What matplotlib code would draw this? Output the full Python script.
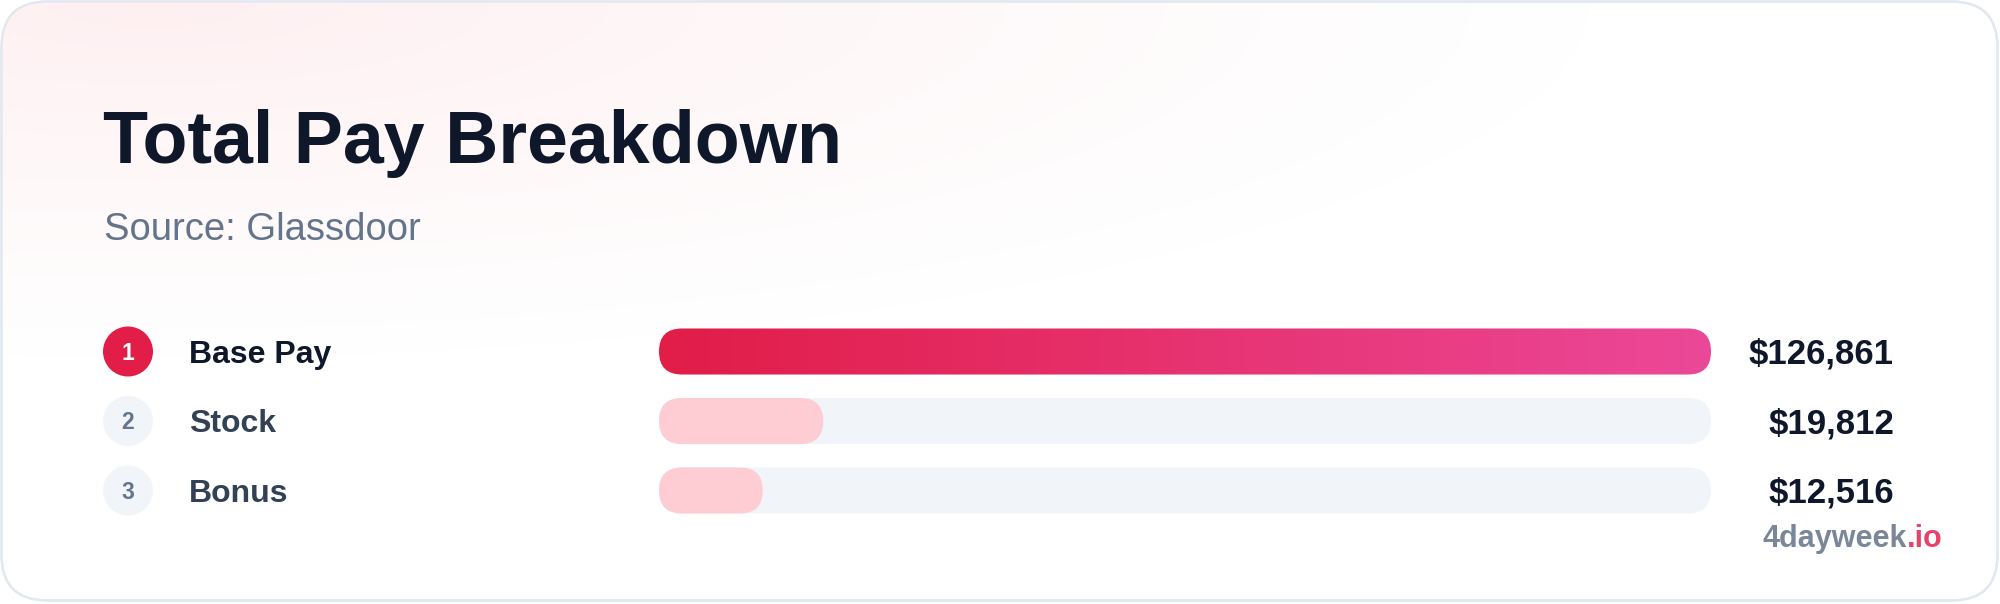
import numpy as np
import matplotlib
matplotlib.use("Agg")
import matplotlib.pyplot as plt
from matplotlib.patches import FancyBboxPatch, Ellipse
from matplotlib import transforms
from matplotlib.colors import to_rgb

# ---------------- data ----------------
categories = ["Base Pay", "Stock", "Bonus"]
values = [126861, 19812, 12516]
value_labels = ["$126,861", "$19,812", "$12,516"]
ranks = ["1", "2", "3"]
title = "Total Pay Breakdown"
subtitle = "Source: Glassdoor"
brand_main = "4dayweek"
brand_tld = ".io"

# ---------------- layout / style ----------------
W, H, DPI = 2000, 604, 100
plt.rcParams["font.family"] = ["Liberation Sans", "DejaVu Sans"]

DARK = "#0f172a"
SLATE7 = "#334155"
SLATE5 = "#64748b"
ROSE = "#e11d48"
PINK = "#ec4899"
ROSE200 = "#fecdd3"
TRACK = "#f1f5f9"
BORDER = "#e2e8f0"

fig = plt.figure(figsize=(W / DPI, H / DPI), dpi=DPI)
fig.patch.set_facecolor("white")

bg = fig.add_axes([0, 0, 1, 1])
bg.set_xlim(0, W)
bg.set_ylim(H, 0)
bg.axis("off")

# card
card = FancyBboxPatch((1.5, 1.5), W - 4, H - 5,
                      boxstyle="round,pad=0,rounding_size=46",
                      facecolor="white", edgecolor=BORDER, linewidth=1.6, zorder=1)
bg.add_patch(card)

# soft pink glow in top-left
yy, xx = np.mgrid[0:H, 0:W]
d = np.sqrt(((xx - 150) / 1450.0) ** 2 + (yy / 360.0) ** 2)
alpha = np.clip(1 - d, 0, 1) ** 1.1 * 0.9
glow = np.zeros((H, W, 4))
glow[..., :3] = np.array([254, 238, 240]) / 255.0
glow[..., 3] = alpha
im = bg.imshow(glow, extent=(0, W, H, 0), aspect="auto", zorder=1.2, interpolation="bilinear")
im.set_clip_path(card)
bg.add_patch(FancyBboxPatch((1.5, 1.5), W - 4, H - 5,
                            boxstyle="round,pad=0,rounding_size=46",
                            facecolor="none", edgecolor=BORDER, linewidth=1.6, zorder=1.5))

# titles
bg.text(103, 163, title, fontsize=53, fontweight="bold", color=DARK,
        ha="left", va="baseline", zorder=3)
bg.text(104, 240, subtitle, fontsize=27.5, color=SLATE5,
        ha="left", va="baseline", zorder=3)

# ---------------- bars ----------------
x0, x1 = 659, 1711          # track pixel span
row0, gap = 351.5, 69.5     # row centre / spacing in pixels
n = len(values)
top = row0 - gap / 2
ax = fig.add_axes([x0 / W, 1 - (top + n * gap) / H, (x1 - x0) / W, n * gap / H])
vmax = max(values)
ax.set_xlim(0, vmax)
ax.set_ylim(n - 0.5, -0.5)
ax.axis("off")
ax.patch.set_alpha(0)

ux = vmax / (x1 - x0)   # data units per px (x)
uy = 1.0 / gap           # data units per px (y)
bar_px = 46
bar_h = bar_px * uy
m_aspect = uy / ux
rsize = bar_px / 2 * ux

def pill(x, y, w, **kw):
    p = FancyBboxPatch((x, y - bar_h / 2), w, bar_h,
                       boxstyle=f"round,pad=0,rounding_size={rsize}",
                       mutation_aspect=m_aspect, **kw)
    ax.add_patch(p)
    return p

c0 = np.array(to_rgb(ROSE))
c1 = np.array(to_rgb(PINK))
grad = np.linspace(0, 1, 512)[None, :, None]
grad_img = c0 + (c1 - c0) * grad

for i, v in enumerate(values):
    pill(0, i, vmax, facecolor=TRACK, edgecolor="none", zorder=2)
    if i == 0:
        p = pill(0, i, v, facecolor="none", edgecolor="none", zorder=3)
        gi = ax.imshow(grad_img, extent=(0, v, i + bar_h / 2, i - bar_h / 2),
                       aspect="auto", zorder=3, interpolation="bilinear")
        gi.set_clip_path(p)
    else:
        pill(0, i, v, facecolor=ROSE200, edgecolor="none", zorder=3)

ax.set_xlim(0, vmax)
ax.set_ylim(n - 0.5, -0.5)

# ---------------- row labels ----------------
trans = transforms.blended_transform_factory(bg.transData, ax.transData)
for i, (cat, rk, vl) in enumerate(zip(categories, ranks, value_labels)):
    first = i == 0
    circ = Ellipse((128, i), width=50, height=50 * uy, transform=trans,
                   facecolor=ROSE if first else TRACK, edgecolor="none",
                   zorder=4, clip_on=False)
    ax.add_patch(circ)
    ax.text(128, i + 8.3 * uy, rk, transform=trans, fontsize=16.5, fontweight="bold",
            color="white" if first else SLATE5, ha="center", va="baseline",
            zorder=5, clip_on=False)
    ax.text(189, i + 11.4 * uy, cat, transform=trans, fontsize=23, fontweight="bold",
            color=DARK if first else SLATE7, ha="left", va="baseline", zorder=5)
    ax.text(1894, i + 12.3 * uy, vl, transform=trans, fontsize=25, fontweight="bold",
            color=DARK, ha="right", va="baseline", zorder=5)

# ---------------- watermark ----------------
t_io = bg.text(1943, 547, brand_tld, fontsize=22, fontweight="bold", color="#e8416a",
               ha="right", va="baseline", zorder=5)
bg.annotate(brand_main, xy=(0, 0), xycoords=t_io, fontsize=22, fontweight="bold",
            color="#7b8699", ha="right", va="bottom", zorder=5)

fig.savefig("out.png", dpi=DPI, facecolor="white")
